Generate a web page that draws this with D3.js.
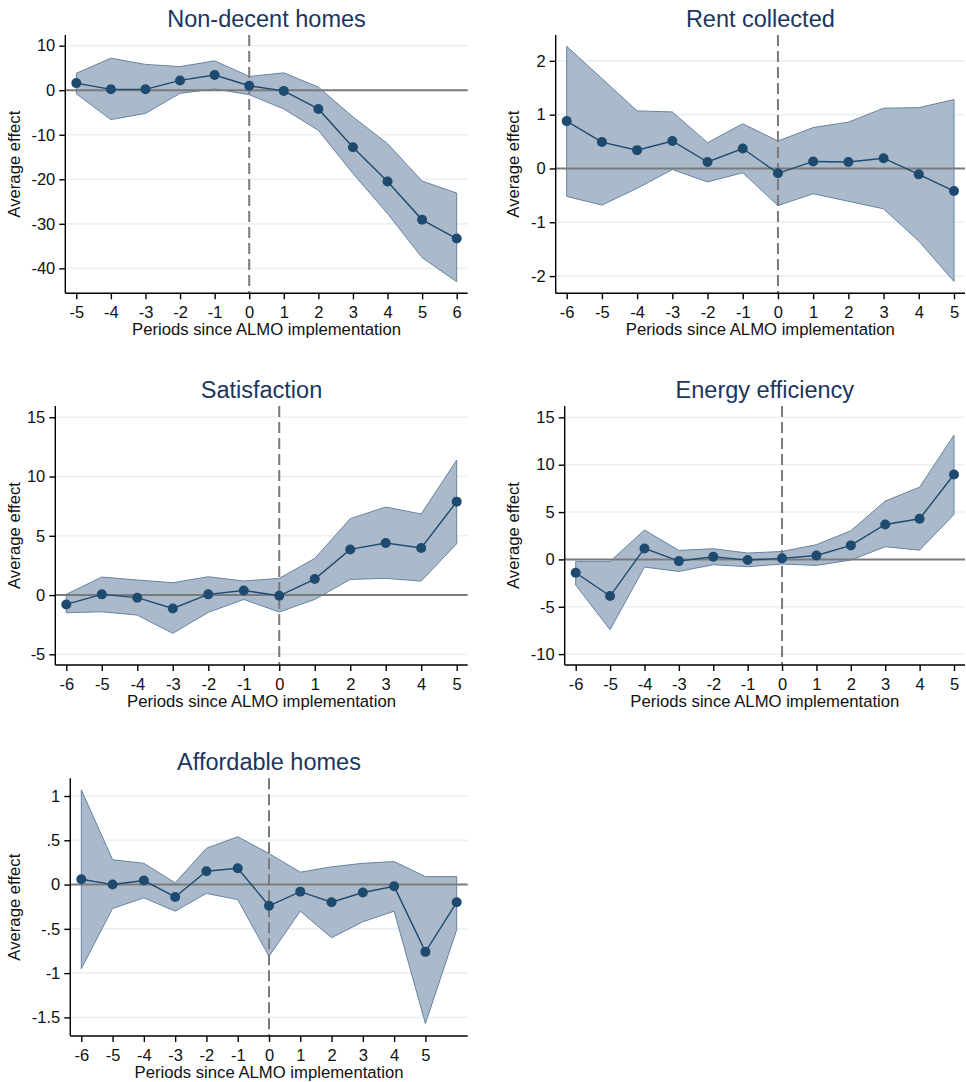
<!DOCTYPE html>
<html>
<head>
<meta charset="utf-8">
<script src="https://cdn.jsdelivr.net/npm/d3@7"></script>
<style>
  body { margin: 0; background: #fff; }
  svg { display: block; font-family: "Liberation Sans", Arial, sans-serif; }
  .panel-title { font-size: 23.5px; fill: #1c3560; }
  .tick-label { font-size: 16.5px; fill: #111; }
  .axis-title { font-size: 16.7px; fill: #111; }
</style>
</head>
<body>
<div id="chart"></div>
<script>
// periods on the x axis
const periodsA = [-5, -4, -3, -2, -1, 0, 1, 2, 3, 4, 5, 6];
const periodsB = [-6, -5, -4, -3, -2, -1, 0, 1, 2, 3, 4, 5];
const periodsC = [-6, -5, -4, -3, -2, -1, 0, 1, 2, 3, 4, 5, 6];

// Non-decent homes
const nonDecentEst = [1.6, 0.2, 0.2, 2.2, 3.4, 1.0, -0.15, -4.2, -12.8, -20.5, -29.1, -33.3];
const nonDecentLo = [-0.8, -6.6, -5.2, -0.7, 0.3, -1.0, -4.2, -9.0, -18.7, -27.7, -37.6, -43.0];
const nonDecentHi = [3.8, 7.2, 5.8, 5.3, 6.6, 3.1, 3.9, 0.7, -6.0, -12.0, -20.4, -23.1];

// Rent collected
const rentEst = [0.88, 0.49, 0.34, 0.51, 0.12, 0.37, -0.09, 0.13, 0.12, 0.19, -0.11, -0.42];
const rentLo = [-0.52, -0.68, -0.37, -0.02, -0.25, -0.08, -0.69, -0.47, -0.61, -0.75, -1.35, -2.10];
const rentHi = [2.27, 1.67, 1.07, 1.05, 0.48, 0.83, 0.51, 0.76, 0.86, 1.12, 1.13, 1.28];

// Satisfaction
const satisEst = [-0.79, 0.06, -0.22, -1.13, 0.06, 0.39, -0.06, 1.35, 3.85, 4.39, 3.97, 7.88];
const satisLo = [-1.49, -1.41, -1.69, -3.23, -1.46, -0.37, -1.43, -0.37, 1.32, 1.41, 1.18, 4.33];
const satisHi = [0.06, 1.52, 1.27, 1.04, 1.55, 1.18, 1.41, 3.09, 6.44, 7.43, 6.84, 11.39];

// Energy efficiency
const energyEst = [-1.41, -3.87, 1.16, -0.18, 0.28, -0.07, 0.11, 0.42, 1.48, 3.69, 4.29, 8.97];
const energyLo = [-2.71, -7.42, -0.81, -1.27, -0.56, -0.77, -0.49, -0.63, -0.07, 1.34, 0.98, 4.75];
const energyHi = [-0.21, -0.21, 3.10, 0.95, 1.13, 0.67, 0.84, 1.55, 3.02, 6.16, 7.63, 13.12];

// Affordable homes
const affordEst = [0.06, 0.00, 0.045, -0.14, 0.15, 0.185, -0.24, -0.08, -0.20, -0.09, -0.02, -0.76, -0.20];
const affordLo = [-0.95, -0.27, -0.15, -0.30, -0.10, -0.17, -0.81, -0.30, -0.60, -0.42, -0.30, -1.57, -0.51];
const affordHi = [1.07, 0.28, 0.24, 0.02, 0.41, 0.54, 0.35, 0.14, 0.20, 0.24, 0.26, 0.09, 0.09];

// tick values and labels
const xTicksA = [-5, -4, -3, -2, -1, 0, 1, 2, 3, 4, 5, 6];
const xTicksB = [-6, -5, -4, -3, -2, -1, 0, 1, 2, 3, 4, 5];
const yTicksNonDecent = [10, 0, -10, -20, -30, -40];
const yTicksRent = [2, 1, 0, -1, -2];
const yTicksSatis = [15, 10, 5, 0, -5];
const yTicksEnergy = [15, 10, 5, 0, -5, -10];
const yTicksAfford = [1, 0.5, 0, -0.5, -1, -1.5];
const yLabelsAfford = ["1", ".5", "0", "-.5", "-1", "-1.5"];

const WIDTH = 966;
const HEIGHT = 1082;
const X_PAD = 10;

const panels = [
  {
    title: "Non-decent homes", periods: periodsA, est: nonDecentEst, lo: nonDecentLo, hi: nonDecentHi,
    xTicks: xTicksA, xDomain: [-5, 6], yTicks: yTicksNonDecent, yDomain: [-45.6, 12.4],
    frame: { left: 65.3, right: 467.7, top: 35, bottom: 293.3 }, yTitleX: 14
  },
  {
    title: "Rent collected", periods: periodsB, est: rentEst, lo: rentLo, hi: rentHi,
    xTicks: xTicksB, xDomain: [-6, 5], yTicks: yTicksRent, yDomain: [-2.32, 2.48],
    frame: { left: 555.7, right: 965, top: 35, bottom: 293.3 }, yTitleX: 513.5
  },
  {
    title: "Satisfaction", periods: periodsB, est: satisEst, lo: satisLo, hi: satisHi,
    xTicks: xTicksB, xDomain: [-6, 5], yTicks: yTicksSatis, yDomain: [-5.9, 15.95],
    frame: { left: 55.3, right: 467.7, top: 406, bottom: 665 }, yTitleX: 14
  },
  {
    title: "Energy efficiency", periods: periodsB, est: energyEst, lo: energyLo, hi: energyHi,
    xTicks: xTicksB, xDomain: [-6, 5], yTicks: yTicksEnergy, yDomain: [-11.15, 16.2],
    frame: { left: 564.7, right: 965, top: 406, bottom: 665 }, yTitleX: 513.5
  },
  {
    title: "Affordable homes", periods: periodsC, est: affordEst, lo: affordLo, hi: affordHi,
    xTicks: xTicksB, xDomain: [-6, 6], yTicks: yTicksAfford, yLabels: yLabelsAfford, yDomain: [-1.71, 1.2],
    frame: { left: 70.3, right: 467.7, top: 778.3, bottom: 1036 }, yTitleX: 14
  }
];

const svg = d3.select("#chart")
  .append("svg")
  .attr("width", WIDTH)
  .attr("height", HEIGHT)
  .attr("viewBox", `0 0 ${WIDTH} ${HEIGHT}`);

function drawPanel(p) {
  const f = p.frame;
  const x = d3.scaleLinear().domain(p.xDomain).range([f.left + X_PAD + 1, f.right - X_PAD - 1]);
  const y = d3.scaleLinear().domain(p.yDomain).range([f.bottom, f.top]);
  const g = svg.append("g");

  // grid lines
  g.append("g")
    .selectAll("line")
    .data(p.yTicks.filter((t) => t !== 0))
    .enter()
    .append("line")
    .attr("x1", f.left + 1)
    .attr("x2", f.right)
    .attr("y1", (t) => y(t))
    .attr("y2", (t) => y(t))
    .attr("stroke", "#eaf1f4")
    .attr("stroke-width", 1.6);

  const rows = p.periods.map((period, i) => ({ period, est: p.est[i], lo: p.lo[i], hi: p.hi[i] }));

  // confidence band
  const area = d3.area()
    .x((d) => x(d.period))
    .y0((d) => y(d.lo))
    .y1((d) => y(d.hi));

  g.append("path")
    .datum(rows)
    .attr("d", area)
    .attr("fill", "#aabacb")
    .attr("stroke", "#6683a2")
    .attr("stroke-width", 1);

  // zero line
  g.append("line")
    .attr("x1", f.left)
    .attr("x2", f.right)
    .attr("y1", y(0))
    .attr("y2", y(0))
    .attr("stroke", "#7a7a7a")
    .attr("stroke-width", 2);

  // treatment line
  g.append("line")
    .attr("x1", x(0))
    .attr("x2", x(0))
    .attr("y1", f.top)
    .attr("y2", f.bottom)
    .attr("stroke", "#7a7a7a")
    .attr("stroke-width", 2)
    .attr("stroke-dasharray", "11,5");

  // estimates
  g.append("path")
    .datum(rows)
    .attr("d", d3.line().x((d) => x(d.period)).y((d) => y(d.est)))
    .attr("fill", "none")
    .attr("stroke", "#1f4a70")
    .attr("stroke-width", 1.4);

  g.append("g")
    .selectAll("circle")
    .data(rows)
    .enter()
    .append("circle")
    .attr("cx", (d) => x(d.period))
    .attr("cy", (d) => y(d.est))
    .attr("r", 5)
    .attr("fill", "#1f4a70");

  // axes
  const yAxis = d3.axisLeft(y)
    .tickValues(p.yTicks)
    .tickSize(6)
    .tickPadding(4)
    .tickFormat((t, i) => (p.yLabels ? p.yLabels[i] : String(t)));

  const yAxisG = g.append("g")
    .attr("transform", `translate(${f.left},0)`)
    .call(yAxis);
  yAxisG.select(".domain").attr("d", `M0,${f.top}V${f.bottom}`).attr("stroke", "#000").attr("stroke-width", 1.4);
  yAxisG.selectAll(".tick line").attr("stroke", "#000").attr("stroke-width", 1.4);
  yAxisG.selectAll(".tick text").attr("class", "tick-label").attr("font-family", null).attr("font-size", null);

  const xAxis = d3.axisBottom(x)
    .tickValues(p.xTicks)
    .tickSize(6)
    .tickPadding(7)
    .tickFormat((t) => String(t));

  const xAxisG = g.append("g")
    .attr("transform", `translate(0,${f.bottom})`)
    .call(xAxis);
  xAxisG.select(".domain").attr("d", `M${f.left},0H${f.right}`).attr("stroke", "#000").attr("stroke-width", 1.4);
  xAxisG.selectAll(".tick line").attr("stroke", "#000").attr("stroke-width", 1.4);
  xAxisG.selectAll(".tick text").attr("class", "tick-label").attr("font-family", null).attr("font-size", null);

  // titles
  const cx = (f.left + f.right) / 2;
  g.append("text")
    .attr("class", "panel-title")
    .attr("x", cx)
    .attr("y", f.top - 8)
    .attr("text-anchor", "middle")
    .text(p.title);

  g.append("text")
    .attr("class", "axis-title")
    .attr("x", cx)
    .attr("y", f.bottom + 42)
    .attr("text-anchor", "middle")
    .text("Periods since ALMO implementation");

  g.append("text")
    .attr("class", "axis-title")
    .attr("transform", `translate(${p.yTitleX},${(f.top + f.bottom) / 2}) rotate(-90)`)
    .attr("dy", "0.35em")
    .attr("text-anchor", "middle")
    .text("Average effect");
}

panels.forEach(drawPanel);
</script>
</body>
</html>
